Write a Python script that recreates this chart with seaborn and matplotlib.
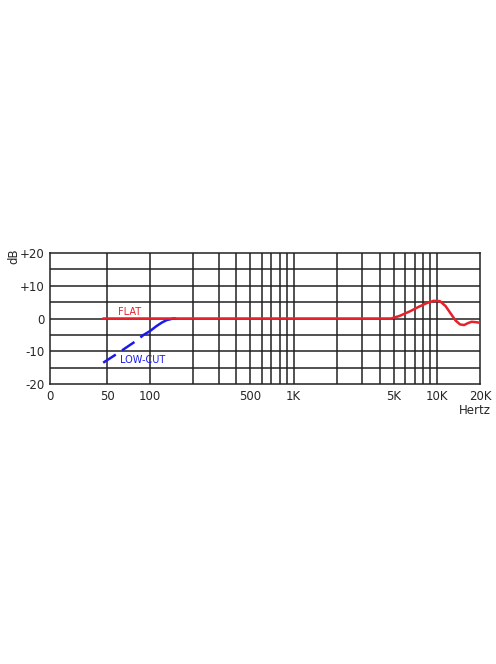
import matplotlib
matplotlib.use("Agg")
import matplotlib.pyplot as plt
import seaborn as sns
import pandas as pd

sns.set_theme(style="white")
plt.rcParams['font.family'] = ['DejaVu Sans']

flat_hz = [47, 1000, 4800, 5500, 6500, 7500, 8500, 9500, 10500, 11500, 12500, 13500, 14500, 15500, 16500, 17500, 18500, 20000]
flat_db = [0, 0, 0, 0.8, 2.2, 3.6, 4.7, 5.4, 5.3, 3.8, 1.5, -0.6, -1.8, -2.0, -1.4, -1.0, -1.1, -1.3]
low_hz = [47, 60, 70, 80, 90, 100, 110, 120, 130, 145, 150]
low_db = [-13.5, -10.5, -8.5, -6.8, -5.0, -3.8, -2.4, -1.3, -0.5, 0, 0]
grid_hz = [50, 100, 200, 300, 400, 500, 600, 700, 800, 900, 1000, 2000, 3000, 4000,
           5000, 6000, 7000, 8000, 9000, 10000]
xtick_hz = [20, 50, 100, 500, 1000, 5000, 10000, 20000]
xtick_lbl = ["0", "50", "100", "500", "1K", "5K", "10K", "20K"]
ytick_db = [-20, -10, 0, 10, 20]
ytick_lbl = ["-20", "-10", "0", "+10", "+20"]

fig = plt.figure(figsize=(4.96, 6.64), dpi=100)
ax = fig.add_axes([50/496, 1-384/664, 430/496, 131/664])
ax.set_xscale("log")
for g in grid_hz:
    ax.axvline(g, color="#222222", lw=1.1, zorder=1)
for y in range(-15, 20, 5):
    ax.axhline(y, color="#222222", lw=1.1, zorder=1)

low = pd.DataFrame({"hz": low_hz, "db": low_db})
sns.lineplot(data=low[low.hz <= 100], x="hz", y="db", color="#1a1aee", lw=1.8,
             dashes=(6, 3), ax=ax, zorder=3)
ax.lines[-1].set_dashes((6, 3))
sns.lineplot(data=low[low.hz >= 95], x="hz", y="db", color="#1a1aee", lw=1.8, ax=ax, zorder=3)
sns.lineplot(data=pd.DataFrame({"hz": flat_hz, "db": flat_db}), x="hz", y="db",
             color="#e8202a", lw=1.8, ax=ax, zorder=4)

ax.set_xlim(20, 20000)
ax.set_ylim(-20, 20)
ax.set_xticks(xtick_hz)
ax.set_xticklabels(xtick_lbl)
ax.minorticks_off()
ax.set_yticks(ytick_db)
ax.set_yticklabels(ytick_lbl)
ax.tick_params(length=0, labelsize=8.5, pad=4)
for s in ax.spines.values():
    s.set_color("#222222")
    s.set_linewidth(1.1)
ax.set_xlabel("")
ax.set_ylabel("")
ax.text(60, 1.2, "FLAT", color="#e8202a", fontsize=7)
ax.text(62, -13.5, "LOW-CUT", color="#1a1aee", fontsize=7)
fig.text(14/496, 1-256/664, "dB", rotation=90, fontsize=8.5, ha="center", va="center")
fig.text(475/496, 1-411/664, "Hertz", fontsize=8.5, ha="center", va="center")
fig.savefig("out.png", dpi=100, facecolor="white")
